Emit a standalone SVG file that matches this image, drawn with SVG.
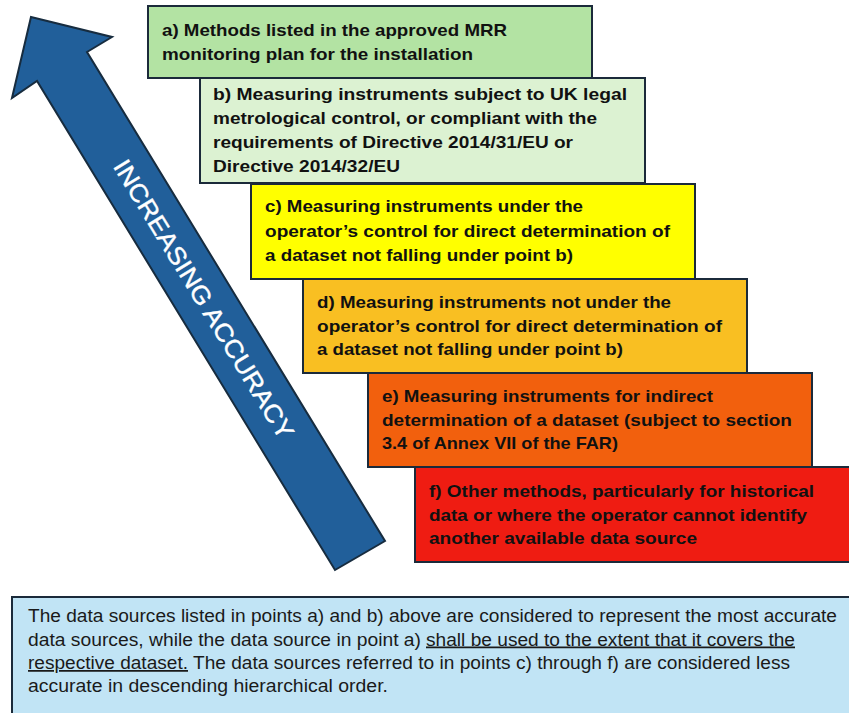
<svg xmlns="http://www.w3.org/2000/svg" width="849" height="713" viewBox="0 0 849 713">
  <style>
    .box { stroke: #1b2a3a; stroke-width: 2; }
    .lbl { font-family: "Liberation Sans", "DejaVu Sans", sans-serif; font-weight: bold; font-size: 17px; fill: #111111; }
    .note { font-family: "Liberation Sans", "DejaVu Sans", sans-serif; font-size: 17.5px; fill: #1a1a1a; }
    .arrowtxt { font-family: "Liberation Sans", "DejaVu Sans", sans-serif; font-size: 25px; fill: #ffffff; stroke: #ffffff; stroke-width: 0.4; }
  </style>
  <rect width="849" height="713" fill="#ffffff"/>

  <!-- direction arrow -->
  <g id="accuracy-arrow">
    <polygon points="31,17 112,37 87,52 385,541 335,570 37,81 12,98" fill="#215f9a" stroke="#172c3f" stroke-width="2" stroke-linejoin="miter"/>
    <text class="arrowtxt" x="204" y="299" text-anchor="middle" dominant-baseline="central" textLength="322" lengthAdjust="spacingAndGlyphs" transform="rotate(58.6 204 299)">INCREASING ACCURACY</text>
  </g>

  <g id="connectors"></g>

  <!-- f -->
  <g id="node-f">
    <rect class="box" x="415" y="467" width="440" height="95" fill="#ef1c12"/>
    <text class="lbl" x="429" y="497" textLength="385" lengthAdjust="spacingAndGlyphs">f) Other methods, particularly for historical</text>
    <text class="lbl" x="429" y="521" textLength="378" lengthAdjust="spacingAndGlyphs">data or where the operator cannot identify</text>
    <text class="lbl" x="429" y="544" textLength="268" lengthAdjust="spacingAndGlyphs">another available data source</text>
  </g>

  <!-- e -->
  <g id="node-e">
    <rect class="box" x="368" y="373" width="444" height="94" fill="#f2600d"/>
    <text class="lbl" x="382" y="402" textLength="331" lengthAdjust="spacingAndGlyphs">e) Measuring instruments for indirect</text>
    <text class="lbl" x="382" y="426" textLength="410" lengthAdjust="spacingAndGlyphs">determination of a dataset (subject to section</text>
    <text class="lbl" x="382" y="449" textLength="236" lengthAdjust="spacingAndGlyphs">3.4 of Annex VII of the FAR)</text>
  </g>

  <!-- d -->
  <g id="node-d">
    <rect class="box" x="303" y="279" width="444" height="94" fill="#f9bf22"/>
    <text class="lbl" x="317" y="308" textLength="354" lengthAdjust="spacingAndGlyphs">d) Measuring instruments not under the</text>
    <text class="lbl" x="317" y="332" textLength="405" lengthAdjust="spacingAndGlyphs">operator’s control for direct determination  of</text>
    <text class="lbl" x="317" y="355" textLength="306" lengthAdjust="spacingAndGlyphs">a dataset not falling under point b)</text>
  </g>

  <!-- c -->
  <g id="node-c">
    <rect class="box" x="251" y="184" width="444" height="95" fill="#ffff00"/>
    <text class="lbl" x="265" y="212" textLength="318" lengthAdjust="spacingAndGlyphs">c) Measuring instruments under the</text>
    <text class="lbl" x="265" y="237" textLength="405" lengthAdjust="spacingAndGlyphs">operator’s control for direct determination  of</text>
    <text class="lbl" x="265" y="261" textLength="308" lengthAdjust="spacingAndGlyphs">a dataset not falling under point b)</text>
  </g>

  <!-- b -->
  <g id="node-b">
    <rect class="box" x="200" y="78" width="445" height="105" fill="#dcf2d2"/>
    <text class="lbl" x="213" y="100" textLength="414" lengthAdjust="spacingAndGlyphs">b) Measuring instruments subject to UK legal</text>
    <text class="lbl" x="213" y="124" textLength="384" lengthAdjust="spacingAndGlyphs">metrological control, or compliant with the</text>
    <text class="lbl" x="213" y="148" textLength="360" lengthAdjust="spacingAndGlyphs">requirements of Directive 2014/31/EU or</text>
    <text class="lbl" x="213" y="172" textLength="187" lengthAdjust="spacingAndGlyphs">Directive 2014/32/EU</text>
  </g>

  <!-- a -->
  <g id="node-a">
    <rect class="box" x="148" y="6" width="444" height="72" fill="#b3e3a3"/>
    <text class="lbl" x="162" y="36" textLength="345" lengthAdjust="spacingAndGlyphs">a) Methods listed in the approved MRR</text>
    <text class="lbl" x="162" y="60" textLength="311" lengthAdjust="spacingAndGlyphs">monitoring plan for the installation</text>
  </g>

  <!-- explanatory note -->
  <g id="note">
    <rect x="12" y="597" width="850" height="130" fill="#c1e4f5" stroke="#1b2a3a" stroke-width="2"/>
    <text class="note" x="28" y="622" textLength="809" lengthAdjust="spacingAndGlyphs">The data sources listed in points a) and b) above are considered to represent the most accurate</text>
    <text class="note" x="28" y="645.5" textLength="393" lengthAdjust="spacingAndGlyphs">data sources, while the data source in point a)</text>
    <text class="note" x="426" y="645.5" textLength="369" lengthAdjust="spacingAndGlyphs" text-decoration="underline">shall be used to the extent that it covers the</text>
    <text class="note" x="28" y="669" textLength="160" lengthAdjust="spacingAndGlyphs" text-decoration="underline">respective dataset.</text>
    <text class="note" x="193" y="669" textLength="597" lengthAdjust="spacingAndGlyphs">The data sources referred to in points c) through f) are considered less</text>
    <text class="note" x="28" y="692" textLength="360" lengthAdjust="spacingAndGlyphs">accurate in descending hierarchical order.</text>
  </g>
</svg>
